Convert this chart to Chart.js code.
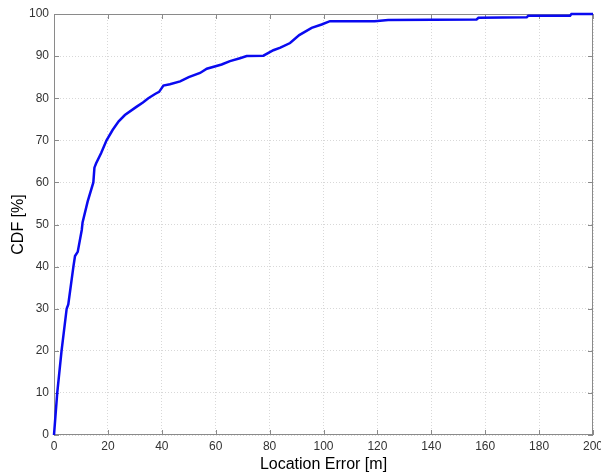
<!DOCTYPE html>
<html>
<head>
<meta charset="utf-8">
<script src="https://cdn.jsdelivr.net/npm/chart.js@4/dist/chart.umd.min.js"></script>
<style>
  html, body { margin: 0; padding: 0; background: #fff; }
  #wrap { width: 601px; height: 474px; }
</style>
</head>
<body>
<div id="wrap"><canvas id="grafico"></canvas></div>
<script>
// error values [m]
const erroLocal = [0, 1.2, 2.8, 4.7, 5.3, 7.2, 7.8, 8.8, 10.3, 10.6, 12.5, 14.6, 15.0, 15.6, 17.5,
  19.5, 21.8, 24, 26.3, 30.7, 33, 35, 37.5, 39, 40.6, 43, 46.8, 50, 54.2, 56.7, 62.2, 65.3, 69,
  71.5, 77.7, 81.4, 84, 87.6, 91, 95.6, 99.3, 102.4, 119, 124, 156.8, 157.5, 175.4, 176, 191.5,
  192, 200];
// CDF [%]
const cdf = [0, 10, 20, 30, 31, 40, 42.5, 43.5, 48.7, 50.5, 55.5, 60, 63.5, 64.5, 67,
  70, 72.5, 74.5, 76, 78, 79, 80, 81, 81.5, 83, 83.3, 84, 85, 86, 87, 88, 88.8, 89.5,
  90, 90.1, 91.4, 92, 93.1, 95, 96.7, 97.5, 98.3, 98.3, 98.6, 98.7, 99.1, 99.2, 99.6, 99.6,
  100, 100];

const ticksX = [0, 20, 40, 60, 80, 100, 120, 140, 160, 180, 200];
const ticksY = [0, 10, 20, 30, 40, 50, 60, 70, 80, 90, 100];

const pontos = erroLocal.map((x, i) => ({ x, y: cdf[i] }));

// caixa + marcas internas (estilo MATLAB)
const caixa = {
  id: 'caixa',
  beforeDatasetsDraw(chart) {
    const { ctx, chartArea: a, scales } = chart;
    ctx.save();
    ctx.strokeStyle = '#8a8a8a';
    ctx.lineWidth = 1;
    ctx.strokeRect(a.left + 0.5, a.top + 0.5, a.right - a.left - 1, a.bottom - a.top - 1);
    ctx.beginPath();
    ticksX.forEach(v => {
      const px = Math.round(scales.x.getPixelForValue(v)) + 0.5;
      ctx.moveTo(px, a.bottom); ctx.lineTo(px, a.bottom - 5);
      ctx.moveTo(px, a.top); ctx.lineTo(px, a.top + 5);
    });
    ticksY.forEach(v => {
      const py = Math.round(scales.y.getPixelForValue(v)) + 0.5;
      ctx.moveTo(a.left, py); ctx.lineTo(a.left + 5, py);
      ctx.moveTo(a.right, py); ctx.lineTo(a.right - 5, py);
    });
    ctx.stroke();
    ctx.restore();
  }
};

Chart.defaults.font.family = '"Liberation Sans", Arial, sans-serif';
Chart.defaults.animation = false;

new Chart(document.getElementById('grafico'), {
  type: 'line',
  data: {
    datasets: [{
      data: pontos,
      borderColor: '#0a0af0',
      borderWidth: 2.5,
      pointRadius: 0,
      tension: 0,
      fill: false,
      clip: 4
    }]
  },
  options: {
    responsive: true,
    maintainAspectRatio: false,
    layout: { padding: { top: 14, right: 8, left: 0, bottom: 0 } },
    plugins: { legend: { display: false }, tooltip: { enabled: false } },
    scales: {
      x: {
        type: 'linear',
        min: 0, max: 200,
        afterBuildTicks: s => { s.ticks = ticksX.map(v => ({ value: v })); },
        afterFit: s => { s.height = 39; s.paddingRight = 0; s.paddingLeft = 0; },
        grid: { color: '#d8d8d8', drawTicks: false },
        border: { display: false, dash: [1, 2] },
        ticks: { color: '#333', font: { size: 12 }, padding: 4, maxRotation: 0 },
        title: { display: true, text: 'Location Error [m]', color: '#000', font: { size: 16 }, padding: { top: 0, bottom: 0 } }
      },
      y: {
        min: 0, max: 100,
        afterBuildTicks: s => { s.ticks = ticksY.map(v => ({ value: v })); },
        afterFit: s => { s.width = 54; s.paddingTop = 0; s.paddingBottom = 0; },
        grid: { color: '#d8d8d8', drawTicks: false },
        border: { display: false, dash: [1, 2] },
        ticks: { color: '#333', font: { size: 12 }, padding: 5 },
        title: { display: true, text: 'CDF [%]', color: '#000', font: { size: 16 }, padding: { top: 9, bottom: 0 } }
      }
    }
  },
  plugins: [caixa]
});
</script>
</body>
</html>
